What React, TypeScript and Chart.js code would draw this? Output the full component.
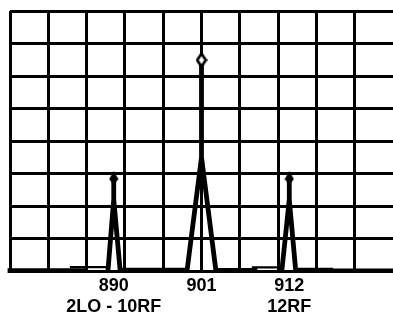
import { useEffect, useRef } from "react";
import { Chart, registerables } from "chart.js";

Chart.register(...registerables);

// Axis ranges
const freqMin = 877;
const freqMax = 925;
const levelMax = 8;
const gridColumns = 10;

// Tick labels on the frequency axis
const labelFreqs = [890, 901, 912];
const freqLabels = ["890", "901", "912"];
const mixLabels = ["2LO - 10RF", "", "12RF"];

// Main (thick) spectrum trace
const traceFreq = [877, 886.4, 886.4, 889.3, 890, 890, 890, 890.8, 899.2, 901, 901, 901, 902.8, 907.7, 907.7, 911.1, 912, 912, 912, 912.8, 917.2];
const traceLevel = [0.01, 0.01, null, 0.08, 2.2, 2.86, 2.2, 0.03, 0.03, 3.5, 6.49, 3.5, 0.02, 0.02, null, 0.08, 2.2, 2.86, 2.2, 0.03, 0.03];

// Thin noise-floor pieces
const floorFreq = [884.5, 889.4, 889.4, 907.3, 911.2];
const floorLevel = [0.12, 0.12, null, 0.11, 0.11];

// Tail of the trace
const tailFreq = [917.2, 925];
const tailLevel = [0.02, 0.02];

// Peak markers
const peakFreq = [890, 901, 912];
const peakLevel = [2.86, 6.49, 2.86];
const peakHollow = [false, true, false];

function makeDiamond(hollow: boolean): HTMLCanvasElement {
  const c = document.createElement("canvas");
  if (hollow) {
    c.width = 12;
    c.height = 16;
    const g = c.getContext("2d")!;
    g.beginPath();
    g.moveTo(6, 1.6);
    g.lineTo(10.3, 8);
    g.lineTo(6, 14.4);
    g.lineTo(1.7, 8);
    g.closePath();
    g.fillStyle = "#fff";
    g.fill();
    g.lineWidth = 2.7;
    g.strokeStyle = "#000";
    g.stroke();
  } else {
    c.width = 10;
    c.height = 14;
    const g = c.getContext("2d")!;
    g.beginPath();
    g.moveTo(5, 0);
    g.lineTo(9.6, 8);
    g.lineTo(5, 14);
    g.lineTo(0.4, 8);
    g.closePath();
    g.fillStyle = "#000";
    g.fill();
  }
  return c;
}

const pts = (xs: number[], ys: (number | null)[]) => xs.map((x, i) => ({ x, y: ys[i] }));

export default function App() {
  const ref = useRef<HTMLCanvasElement | null>(null);

  useEffect(() => {
    if (!ref.current) return;
    const filled = makeDiamond(false);
    const hollow = makeDiamond(true);
    const labelFont = { family: "'Liberation Sans', Arial, sans-serif", size: 18, weight: "bold" as const, lineHeight: 1.2 };

    const chart = new Chart(ref.current, {
      type: "line",
      data: {
        datasets: [
          {
            data: pts(peakFreq, peakLevel) as any,
            xAxisID: "freq",
            showLine: false,
            pointRadius: 5,
            pointStyle: peakHollow.map((h) => (h ? hollow : filled)) as any,
            order: 0,
            clip: false as any,
          },
          {
            data: pts(traceFreq, traceLevel) as any,
            xAxisID: "freq",
            borderColor: "#000",
            borderWidth: 4.8,
            borderCapStyle: "square",
            borderJoinStyle: "round",
            pointRadius: 0,
            tension: 0,
            spanGaps: false,
            order: 1,
            clip: false as any,
          },
          {
            data: pts(floorFreq, floorLevel) as any,
            xAxisID: "freq",
            borderColor: "#000",
            borderWidth: 2.2,
            pointRadius: 0,
            tension: 0,
            spanGaps: false,
            order: 2,
            clip: false as any,
          },
          {
            data: pts(tailFreq, tailLevel) as any,
            xAxisID: "freq",
            borderColor: "#000",
            borderWidth: 3.6,
            pointRadius: 0,
            tension: 0,
            order: 3,
            clip: false as any,
          },
        ],
      },
      options: {
        responsive: false,
        animation: false,
        events: [],
        layout: { autoPadding: false, padding: { left: 10, top: 11, right: 0, bottom: 0 } },
        plugins: { legend: { display: false }, tooltip: { enabled: false } },
        scales: {
          x: {
            type: "linear",
            position: "bottom",
            min: 0,
            max: gridColumns,
            ticks: { display: false, stepSize: 1 },
            grid: { color: "#000", lineWidth: 3, drawTicks: false },
            border: { display: false },
            afterBuildTicks: (a: any) => {
              a.ticks = a.ticks.filter((t: any) => t.value < gridColumns);
            },
            afterFit: (a: any) => {
              a.height = 0;
            },
          },
          freq: {
            type: "linear",
            position: "bottom",
            min: freqMin,
            max: freqMax,
            grid: { display: false, drawTicks: false },
            border: { display: false },
            ticks: {
              padding: 4,
              color: "#000",
              font: labelFont,
              maxRotation: 0,
              autoSkip: false,
              callback: (_v: any, i: number) => [freqLabels[i], mixLabels[i]],
            },
            afterBuildTicks: (a: any) => {
              a.ticks = labelFreqs.map((v) => ({ value: v }));
            },
            afterFit: (a: any) => {
              a.height = 47;
            },
          },
          y: {
            type: "linear",
            min: 0,
            max: levelMax,
            ticks: { display: false, stepSize: 1 },
            grid: { color: "#000", lineWidth: 3, drawTicks: false },
            border: { display: false },
            afterFit: (a: any) => {
              a.width = 0;
            },
          },
        },
      } as any,
    });
    return () => chart.destroy();
  }, []);

  return (
    <div style={{ position: "fixed", left: 0, top: 0, width: 393, height: 318, overflow: "hidden", background: "#fff" }}>
      <canvas ref={ref} width={393} height={318} style={{ display: "block" }} />
    </div>
  );
}
